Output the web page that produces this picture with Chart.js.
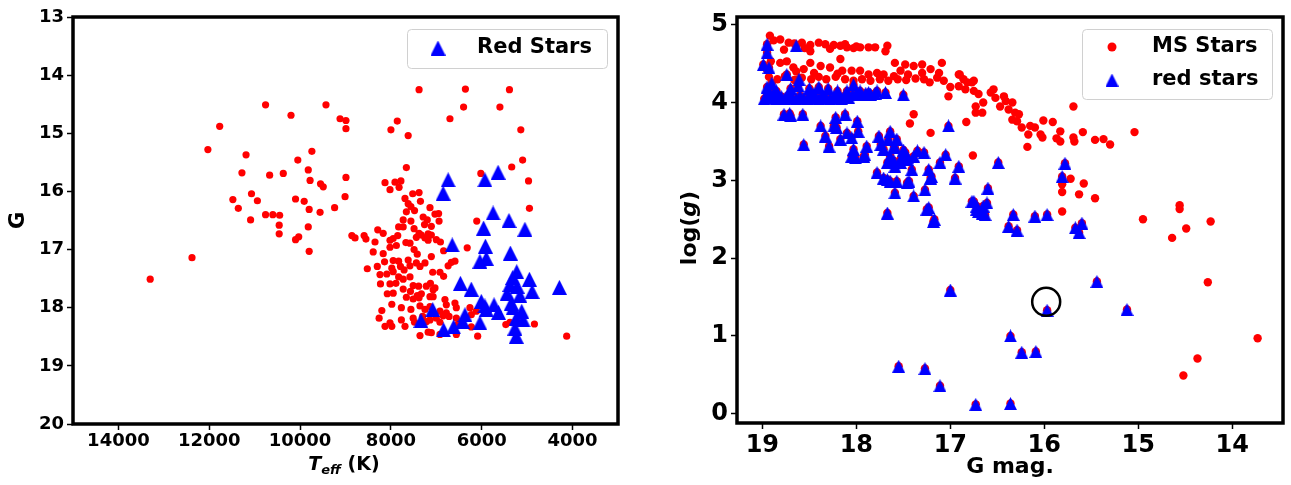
<!DOCTYPE html>
<html>
<head>
<meta charset="utf-8">
<script src="https://cdn.jsdelivr.net/npm/chart.js@4.4.0/dist/chart.umd.min.js"></script>
<style>
  body { margin: 0; background: #fff; }
  #wrap { position: relative; width: 1291px; height: 485px; }
  canvas { position: absolute; top: 0; }
  #left { left: 0; }
  #right { left: 650px; }
</style>
</head>
<body>
<div id="wrap">
  <canvas id="left" width="650" height="485"></canvas>
  <canvas id="right" width="641" height="485"></canvas>
</div>
<script>
// ---- panel 1 : Teff vs G ----
const msTeff = [10760,9430,10200,9120,8990,8990,11770,12030,11190,9740,10050,11280,10670,10370,9820,9780,9550,9490,8990,11070,
  11480,10940,11360,10100,9910,9010,9800,9560,9240,11090,10760,10600,10450,10460,9820,10460,10100,10030,9800,8860,
  8790,12380,13300,7380,6360,5390,6400,5600,6700,7860,8000,7620,5140,7660,8130,7910,7780,8020,7820,5100,
  5340,6020,4970,4950,6110,7690,7520,7380,7350,7620,7560,7480,7660,7140,7030,6950,6940,7730,7560,7290,
  7260,7110,7830,7730,7490,8290,8590,8550,8350,8170,8020,7950,7850,7670,7440,7330,7250,7180,7110,7000,
  6910,6320,7200,7580,7380,7180,8390,8170,8020,7880,7490,7420,7110,6840,8520,8300,8140,7950,7830,7620,
  8240,8090,7980,7950,7790,7710,7580,7440,7360,7250,7080,6920,6840,6740,6670,6590,8230,8020,7890,7830,
  7730,7580,7510,7390,7220,7130,7070,7030,8080,7950,7730,7570,7420,7330,7660,7510,7380,7140,7070,7980,
  7770,7560,7360,7250,7140,6810,6780,6590,6560,6920,6780,6260,6120,6230,8200,8260,8020,7980,7770,7690,
  7510,7480,7300,7220,7140,7000,6920,6850,6720,6560,6520,6230,6920,7360,7180,7110,6560,6090,5470,5380,
  4840,8130,4130];
const msG = [14.51,14.51,14.69,14.75,14.78,14.92,14.88,15.28,15.37,15.31,15.46,15.68,15.72,15.69,15.63,15.81,15.87,15.92,15.76,16.04,
  16.14,16.16,16.29,16.13,16.17,16.09,16.31,16.36,16.28,16.49,16.40,16.40,16.41,16.58,16.61,16.73,16.83,16.78,17.03,16.76,
  16.80,17.14,17.51,14.25,14.24,14.25,14.55,14.55,14.75,14.79,14.94,15.04,14.94,15.59,15.85,15.84,15.82,15.97,15.93,15.46,
  15.58,15.69,15.82,16.29,16.51,16.12,16.04,16.02,16.17,16.21,16.26,16.33,16.35,16.28,16.39,16.38,16.51,16.49,16.51,16.44,
  16.57,16.60,16.61,16.61,16.64,16.66,16.76,16.82,16.87,16.72,16.84,16.81,16.76,16.88,16.79,16.75,16.80,16.73,16.75,16.83,
  16.87,16.97,16.49,16.89,16.72,16.84,17.04,17.07,16.96,16.93,17.00,17.08,17.12,17.02,17.33,17.29,17.21,17.19,17.20,17.18,
  17.43,17.42,17.32,17.38,17.29,17.35,17.28,17.23,17.29,17.23,17.39,17.39,17.46,17.28,17.22,17.20,17.59,17.59,17.58,17.47,
  17.51,17.47,17.62,17.63,17.63,17.58,17.69,17.66,17.76,17.75,17.68,17.72,17.79,17.76,17.82,17.85,17.83,17.81,17.81,17.94,
  18.00,18.03,17.97,18.03,17.98,17.86,17.95,17.92,18.00,18.06,18.09,18.00,18.06,18.12,18.05,18.18,18.26,18.32,18.21,18.32,
  18.18,18.25,18.15,18.24,18.21,18.18,18.25,18.14,18.15,18.18,18.28,18.33,18.46,18.48,18.42,18.43,18.46,18.49,18.29,18.25,
  18.28,18.32,18.49];
const redTeff = [6740,6850,5930,5640,5750,5400,5960,5050,6650,5920,5370,6040,5900,5230,5320,4950,5380,5220,6470,6230,
  4890,4290,5440,5160,6010,5930,5730,5630,5900,5350,5310,5120,5240,5090,7080,7340,6370,6420,6040,6840,6620,5270,5240];
const redG = [15.80,16.03,15.80,15.67,16.37,16.50,16.63,16.65,16.92,16.94,17.06,17.20,17.15,17.38,17.48,17.51,17.60,17.63,17.58,17.68,
  17.72,17.65,17.75,17.79,17.89,17.97,17.95,18.08,18.03,17.92,18.00,18.06,18.18,18.21,18.03,18.22,18.12,18.24,18.26,18.38,18.33,18.35,18.49];
const teffTicks = [4000, 6000, 8000, 10000, 12000, 14000];
const gTicks = [13, 14, 15, 16, 17, 18, 19, 20];

// ---- panel 2 : G mag vs log(g) ----
const msGmag = [18.92,18.88,18.81,18.77,18.72,18.66,18.58,18.49,18.49,18.40,18.33,18.24,18.17,18.10,18.03,17.96,17.87,17.80,17.67,17.69,
  18.55,18.28,18.12,18.00,
  18.91,18.81,18.74,18.67,18.56,18.49,18.38,18.28,18.17,18.15,18.05,17.96,17.87,17.78,17.71,17.60,17.59,17.48,17.53,17.39,
  17.30,17.21,17.09,17.14,17.07,17.02,16.91,16.82,16.75,16.73,16.73,
  18.93,18.84,18.76,18.66,18.58,18.48,18.40,18.32,18.22,18.12,18.03,17.94,17.85,17.75,17.66,17.56,17.47,17.37,17.28,17.22,
  17.12,17.00,17.30,17.45,18.64,18.45,18.20,18.95,
  16.90,16.86,16.91,16.84,16.77,16.75,16.70,16.65,16.66,16.57,16.54,16.52,16.43,16.47,16.41,16.34,16.38,16.31,16.34,16.27,
  16.29,16.24,16.15,16.17,16.10,16.04,16.02,16.18,16.01,15.91,15.83,15.87,15.83,15.69,15.69,15.68,15.59,15.46,15.37,15.30,
  15.04,16.83,16.76,15.72,15.58,15.63,15.46,15.81,15.81,15.81,
  17.39,17.43,17.21,
  14.95,14.56,14.56,14.49,14.64,14.23,14.26,13.73,14.37,14.52];
const msLogg = [4.86,4.80,4.81,4.68,4.77,4.76,4.77,4.74,4.66,4.77,4.75,4.74,4.73,4.71,4.70,4.71,4.71,4.71,4.73,4.66,
  4.70,4.69,4.75,4.72,
  4.53,4.51,4.53,4.45,4.43,4.51,4.47,4.45,4.56,4.41,4.41,4.41,4.36,4.38,4.36,4.34,4.51,4.49,4.41,4.47,
  4.49,4.43,4.51,4.32,4.28,4.08,4.36,4.26,4.28,3.95,3.87,
  4.33,4.30,4.34,4.29,4.32,4.30,4.33,4.30,4.33,4.30,4.28,4.30,4.28,4.30,4.28,4.30,4.29,4.31,4.30,4.26,
  4.38,4.20,4.38,4.36,4.40,4.38,4.37,4.42,
  4.36,4.30,4.21,4.17,4.26,4.15,4.11,4.00,3.87,4.13,4.17,4.06,4.08,3.95,4.02,4.00,3.91,3.87,3.78,3.85,
  3.76,3.68,3.70,3.59,3.68,3.59,3.55,3.43,3.77,3.75,3.63,3.54,3.50,3.95,3.55,3.50,3.62,3.52,3.53,3.46,
  3.62,3.75,3.32,3.02,2.96,2.82,2.77,2.95,2.85,2.60,
  3.85,3.73,3.61,
  2.50,2.68,2.63,2.38,2.26,2.47,1.69,0.97,0.71,0.49];
const redGmag = [18.95,18.95,18.64,18.99,18.93,18.74,18.61,
  18.98,18.95,18.92,18.88,18.85,18.80,18.76,18.72,18.68,18.64,18.60,18.56,18.52,18.48,18.44,18.40,18.36,18.32,18.28,18.24,
  18.20,18.16,18.12,18.08,18.04,18.00,17.95,17.90,17.85,17.80,
  18.95,18.90,18.85,18.70,18.62,18.50,18.45,18.40,18.30,18.20,18.10,18.03,17.96,17.87,17.78,17.69,17.50,
  18.77,18.70,18.57,18.56,18.38,18.33,18.29,18.24,18.22,18.12,18.17,18.10,18.05,17.99,17.98,18.03,18.05,17.92,17.89,17.76,
  17.64,17.74,17.71,17.60,17.57,17.67,17.64,17.59,17.53,17.78,17.71,17.64,17.57,17.46,17.48,17.46,17.39,17.35,17.28,17.41,
  17.59,17.39,17.67,17.27,17.25,17.18,17.23,17.20,17.11,17.05,17.02,16.95,16.91,16.77,16.72,
  18.71,18.21,18.01,17.91,17.66,17.59,17.50,17.60,17.53,17.46,17.67,17.44,17.21,17.23,17.17,
  16.49,16.60,16.75,16.72,16.65,16.63,16.66,16.70,16.61,16.33,16.38,16.29,16.10,15.97,15.78,15.81,15.67,15.60,15.63,
  15.44,15.12,15.97,16.36,16.24,16.09,16.73,16.36,17.00,17.55,17.27,17.11];
const redLogg = [4.75,4.64,4.73,4.49,4.45,4.36,4.30,
  4.05,4.10,4.06,4.12,4.05,4.08,4.05,4.10,4.06,4.05,4.09,4.06,4.05,4.08,4.06,4.05,4.10,4.06,4.05,4.08,
  4.06,4.05,4.09,4.06,4.10,4.12,4.10,4.12,4.11,4.12,
  4.20,4.25,4.15,4.18,4.22,4.18,4.12,4.20,4.18,4.15,4.15,4.23,4.15,4.13,4.15,4.13,4.10,
  3.85,3.83,3.85,3.46,3.70,3.57,3.44,3.70,3.81,3.85,3.53,3.61,3.55,3.76,3.63,3.40,3.31,3.31,3.44,3.57,
  3.63,3.46,3.40,3.44,3.53,3.23,3.31,3.18,3.23,3.10,3.03,2.99,2.99,2.97,3.36,3.27,3.31,3.38,3.36,3.14,
  2.84,2.80,2.58,2.88,2.63,2.47,3.14,3.05,3.23,3.33,3.70,3.03,3.18,2.73,2.63,
  3.86,3.68,3.29,3.33,3.53,3.42,3.39,3.25,3.27,3.29,3.01,2.99,3.03,2.65,2.50,
  3.23,2.90,2.73,2.67,2.67,2.56,2.58,2.60,2.71,2.56,2.41,2.36,2.54,2.56,3.22,3.05,2.39,2.45,2.33,
  1.70,1.34,1.33,1.00,0.79,0.80,0.12,0.13,1.59,0.61,0.58,0.36];
const flagGmag = [15.98];
const flagLogg = [1.44];
const gmagTicks = [14, 15, 16, 17, 18, 19];
const loggTicks = [0, 1, 2, 3, 4, 5];

Chart.defaults.font.family = "'DejaVu Sans', sans-serif";
Chart.defaults.font.weight = 'bold';
Chart.defaults.color = '#000';

const zip = (xs, ys) => xs.map((x, i) => ({ x: x, y: ys[i] }));

// matplotlib-like '^' marker (square bounding box)
function triMarker(size, color) {
  const c = document.createElement('canvas');
  c.width = size; c.height = size;
  const g = c.getContext('2d');
  g.fillStyle = color;
  g.beginPath();
  g.moveTo(size / 2, 0);
  g.lineTo(size, size);
  g.lineTo(0, size);
  g.closePath();
  g.fill();
  return c;
}
const triL = triMarker(15, '#0000ff');
const triR = triMarker(13, '#0000ff');

function fixedTicks(list) {
  return s => { s.ticks = list.map(v => ({ value: v })); };
}
// fixed axis box, no extra label overflow padding
function fitW(w) {
  return s => { s.width = w; s.paddingTop = 0; s.paddingBottom = 0; };
}
function fitH(h) {
  return s => { s.height = h; s.paddingLeft = 0; s.paddingRight = 0; };
}

// black frame round the plot area
const frame = {
  id: 'frame',
  afterDatasetsDraw(chart) {
    const a = chart.chartArea, c = chart.ctx;
    c.save();
    c.strokeStyle = '#000';
    c.lineWidth = 3.5;
    c.strokeRect(a.left, a.top, a.right - a.left, a.bottom - a.top);
    c.restore();
  }
};

function legendBox(c, x, y, w, h) {
  c.save();
  c.beginPath();
  c.roundRect(x, y, w, h, 4);
  c.fillStyle = 'rgba(255,255,255,0.8)';
  c.fill();
  c.strokeStyle = '#d0d0d0';
  c.lineWidth = 1;
  c.stroke();
  c.restore();
}

const leftDecor = {
  id: 'leftDecor',
  afterDraw(chart) {
    const c = chart.ctx;
    // legend
    legendBox(c, 407.5, 29.5, 200, 39);
    c.drawImage(triL, 438 - 7.5, 48 - 7.5);
    c.save();
    c.fillStyle = '#000';
    c.font = "bold 21px 'DejaVu Sans'";
    c.textBaseline = 'middle';
    c.fillText('Red Stars', 477, 48);
    // x title: T_eff (K)
    const big = "italic bold 19px 'DejaVu Sans'";
    const sub = "italic bold 13px 'DejaVu Sans'";
    const norm = "bold 19px 'DejaVu Sans'";
    c.textBaseline = 'alphabetic';
    c.font = big; const w1 = c.measureText('T').width;
    c.font = sub; const w2 = c.measureText('eff').width;
    c.font = norm; const w3 = c.measureText(' (K)').width;
    let x = 344 - (w1 + w2 + w3) / 2;
    c.font = big; c.fillText('T', x, 470); x += w1;
    c.font = sub; c.fillText('eff', x, 474); x += w2;
    c.font = norm; c.fillText(' (K)', x, 470);
    c.restore();
  }
};

const rightDecor = {
  id: 'rightDecor',
  afterDraw(chart) {
    const c = chart.ctx;
    legendBox(c, 432.5, 29.5, 190, 70);
    c.save();
    c.fillStyle = '#ff0000';
    c.beginPath();
    c.arc(462, 47, 4.5, 0, Math.PI * 2);
    c.fill();
    c.drawImage(triR, 462 - 6.5, 80 - 6.5);
    c.fillStyle = '#000';
    c.font = "bold 21px 'DejaVu Sans'";
    c.textBaseline = 'middle';
    c.fillText('MS Stars', 502, 47);
    c.fillText('red stars', 502, 80);
    // y title: log(g)
    c.translate(40, 228);
    c.rotate(-Math.PI / 2);
    const n = "bold 22px 'DejaVu Sans'";
    const it = "italic bold 22px 'DejaVu Sans'";
    c.font = n; const a1 = c.measureText('log(').width;
    c.font = it; const a2 = c.measureText('g').width;
    c.font = n; const a3 = c.measureText(')').width;
    let x = -(a1 + a2 + a3) / 2;
    c.font = n; c.fillText('log(', x, 0); x += a1;
    c.font = it; c.fillText('g', x, 0); x += a2;
    c.font = n; c.fillText(')', x, 0);
    c.restore();
  }
};

const tickGrid = { drawOnChartArea: false, drawTicks: true, tickLength: 6, tickWidth: 1.5, color: '#000' };

new Chart(document.getElementById('left'), {
  type: 'scatter',
  data: {
    datasets: [
      { label: 'Red Stars', data: zip(redTeff, redG), pointStyle: triL, order: 1 },
      { label: 'MS', data: zip(msTeff, msG), pointStyle: 'circle', pointRadius: 3.6,
        backgroundColor: '#ff0000', borderWidth: 0, order: 2 }
    ]
  },
  options: {
    responsive: false, animation: false, events: [],
    devicePixelRatio: 1,
    layout: { autoPadding: false, padding: { top: 17, right: 32, left: 0, bottom: 0 } },
    plugins: { legend: { display: false }, tooltip: { enabled: false } },
    scales: {
      x: {
        type: 'linear', reverse: true, min: 3000, max: 15000,
        afterBuildTicks: fixedTicks(teffTicks),
        afterFit: fitH(61),
        grid: tickGrid, border: { display: false },
        ticks: { font: { size: 18, weight: 'bold' }, padding: 1, maxRotation: 0, callback: v => String(v) }
      },
      y: {
        type: 'linear', reverse: true, min: 13, max: 20,
        afterBuildTicks: fixedTicks(gTicks),
        afterFit: fitW(73),
        grid: tickGrid, border: { display: false },
        ticks: { font: { size: 18, weight: 'bold' }, padding: 3, callback: v => String(v) },
        title: { display: true, text: 'G', font: { size: 21, weight: 'bold' }, padding: { top: 6, bottom: 0 } }
      }
    }
  },
  plugins: [frame, leftDecor]
});

new Chart(document.getElementById('right'), {
  type: 'scatter',
  data: {
    datasets: [
      { label: 'flag', data: zip(flagGmag, flagLogg), pointStyle: 'circle', pointRadius: 14,
        backgroundColor: 'rgba(0,0,0,0)', borderColor: '#000', borderWidth: 2.5, order: 0 },
      { label: 'red stars', data: zip(redGmag, redLogg), pointStyle: triR, order: 1 },
      { label: 'red under', data: zip(redGmag, redLogg), pointStyle: 'circle', pointRadius: 4.2,
        backgroundColor: '#ff0000', borderWidth: 0, order: 2 },
      { label: 'MS Stars', data: zip(msGmag, msLogg), pointStyle: 'circle', pointRadius: 4.2,
        backgroundColor: '#ff0000', borderWidth: 0, order: 3 }
    ]
  },
  options: {
    responsive: false, animation: false, events: [],
    devicePixelRatio: 1,
    layout: { autoPadding: false, padding: { top: 17, right: 8, left: 0, bottom: 0 } },
    plugins: { legend: { display: false }, tooltip: { enabled: false } },
    scales: {
      x: {
        type: 'linear', reverse: true, min: 13.46, max: 19.27,
        afterBuildTicks: fixedTicks(gmagTicks),
        afterFit: fitH(62),
        grid: tickGrid, border: { display: false },
        ticks: { font: { size: 24, weight: 'bold' }, padding: 2, maxRotation: 0, callback: v => String(v) },
        title: { display: true, text: 'G mag.', font: { size: 22, weight: 'bold' }, padding: { top: 0, bottom: 5 } }
      },
      y: {
        type: 'linear', min: -0.12, max: 5.1,
        afterBuildTicks: fixedTicks(loggTicks),
        afterFit: fitW(87),
        grid: tickGrid, border: { display: false },
        ticks: { font: { size: 24, weight: 'bold' }, padding: 3, callback: v => String(v) }
      }
    }
  },
  plugins: [frame, rightDecor]
});
</script>
</body>
</html>
